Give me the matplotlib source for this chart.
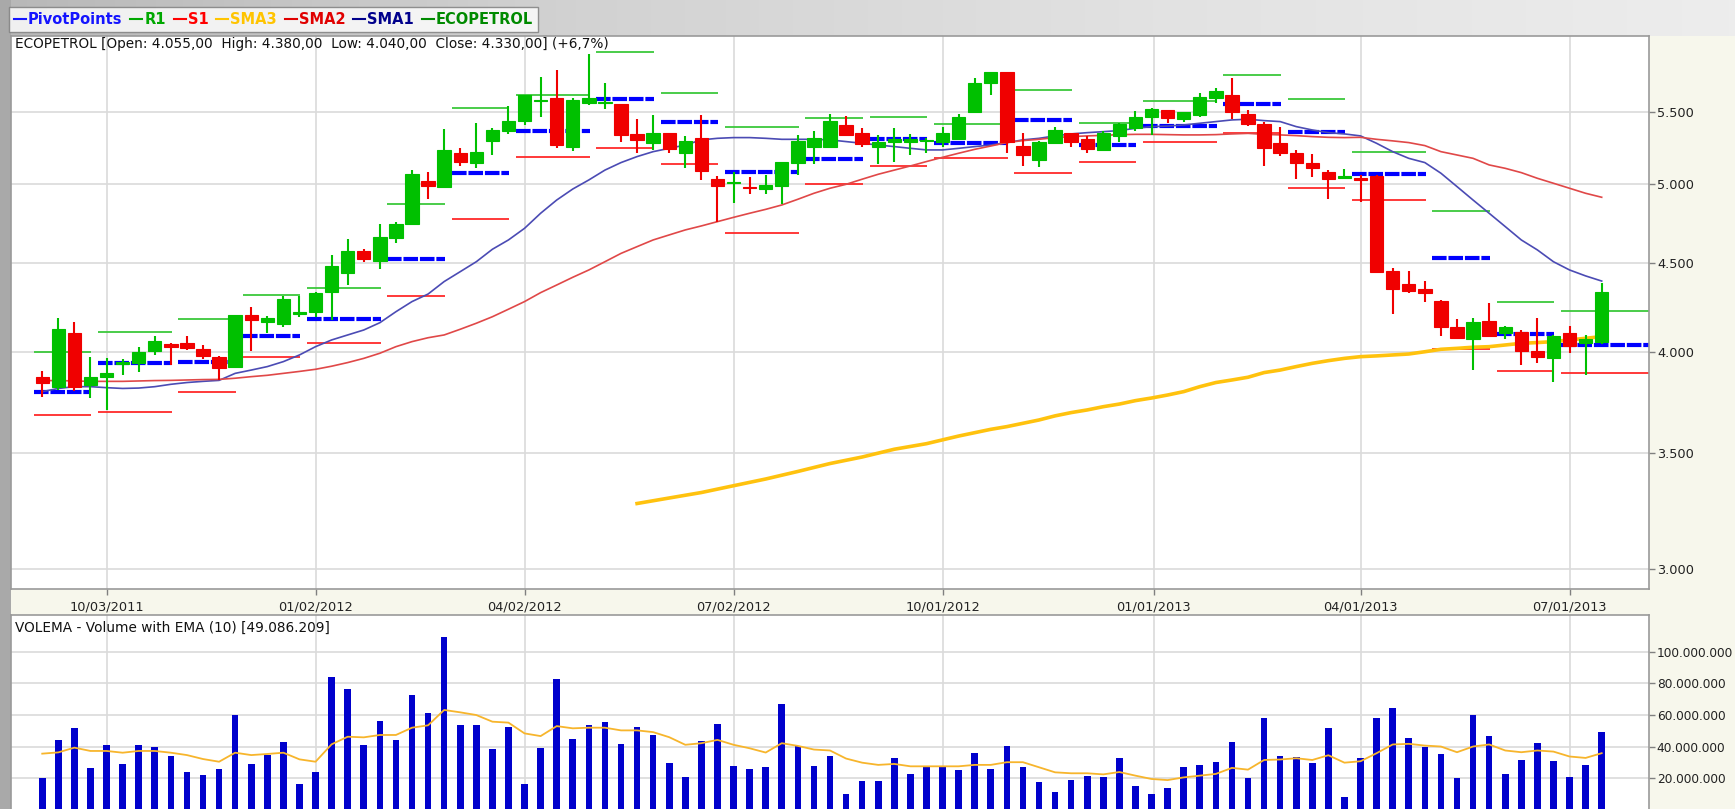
import datetime as dt
import numpy as np
import matplotlib
matplotlib.use("Agg")
import matplotlib.pyplot as plt
import matplotlib.dates as mdates
from matplotlib.patches import Rectangle
from matplotlib.lines import Line2D
from matplotlib.colors import LinearSegmentedColormap
from matplotlib.ticker import FixedLocator, FuncFormatter, NullLocator

plt.rcParams['font.family'] = ['DejaVu Sans']

# ---------------- data ----------------
FIRST_WEEK = "2011-09-05"

opens = [3868, 3817, 4103, 3829, 3871, 3935, 3944, 4005, 4043, 4046,
         4014, 3971, 3923, 4199, 4164, 4151, 4206, 4219, 4333, 4444,
         4575, 4515, 4650, 4737, 5020, 4980, 5209, 5141, 5291, 5364,
         5435, 5576, 5603, 5251, 5561, 5561, 5554, 5340, 5279, 5349,
         5205, 5309, 5029, 5002, 4980, 4962, 4987, 5136, 5251, 5251,
         5404, 5349, 5251, 5286, 5286, 5291, 5286, 5305, 5500, 5710,
         5800, 5255, 5159, 5279, 5344, 5302, 5228, 5326, 5380, 5459,
         5512, 5449, 5476, 5598, 5623, 5483, 5409, 5274, 5209, 5136,
         5080, 5040, 5035, 5053, 4453, 4375, 4346, 4281, 4136, 4071,
         4169, 4100, 4109, 4007, 3969, 4100, 4046, 4055]
highs = [3900, 4182, 4164, 3975, 3966, 3963, 4025, 4088, 4050, 4088,
         4037, 3980, 4199, 4244, 4195, 4308, 4308, 4333, 4549, 4646,
         4583, 4739, 4750, 5090, 5080, 5373, 5239, 5421, 5380, 5542,
         5623, 5756, 5812, 5603, 5937, 5710, 5554, 5447, 5476, 5349,
         5328, 5476, 5051, 5080, 5046, 5057, 5148, 5333, 5364, 5483,
         5469, 5380, 5333, 5380, 5340, 5309, 5387, 5483, 5749, 5794,
         5800, 5344, 5293, 5387, 5349, 5326, 5364, 5416, 5507, 5524,
         5512, 5500, 5635, 5673, 5749, 5512, 5428, 5387, 5228, 5200,
         5090, 5097, 5057, 5057, 4469, 4455, 4396, 4285, 4177, 4182,
         4269, 4140, 4118, 4182, 4092, 4140, 4092, 4380]
lows = [3770, 3803, 3800, 3761, 3704, 3880, 3897, 3984, 3932, 4010,
        3961, 3854, 3919, 4007, 4100, 4136, 4191, 4191, 4173, 4371,
        4508, 4463, 4619, 4737, 4897, 4969, 5118, 5102, 5193, 5337,
        5404, 5459, 5239, 5223, 5549, 5520, 5286, 5209, 5228, 5205,
        5102, 5024, 4754, 4871, 4932, 4932, 4867, 5057, 5132, 5251,
        5326, 5251, 5132, 5148, 5193, 5205, 5251, 5305, 5500, 5623,
        5205, 5118, 5109, 5274, 5251, 5205, 5223, 5286, 5364, 5333,
        5421, 5428, 5459, 5561, 5445, 5396, 5118, 5186, 5029, 5046,
        4897, 5029, 4880, 4444, 4206, 4323, 4275, 4083, 4067, 3906,
        4086, 4067, 3932, 3940, 3845, 3996, 3880, 4040]
closes = [3837, 4125, 3820, 3868, 3888, 3949, 4001, 4058, 4028, 4019,
          3979, 3914, 4199, 4173, 4182, 4289, 4219, 4327, 4483, 4575,
          4523, 4656, 4739, 5062, 4987, 5228, 5148, 5216, 5368, 5435,
          5623, 5586, 5260, 5586, 5603, 5571, 5333, 5298, 5349, 5232,
          5291, 5086, 4987, 5011, 4973, 4991, 5143, 5293, 5309, 5435,
          5333, 5270, 5286, 5305, 5305, 5298, 5349, 5464, 5716, 5794,
          5286, 5193, 5286, 5368, 5286, 5232, 5349, 5411, 5464, 5522,
          5452, 5495, 5606, 5653, 5500, 5411, 5239, 5205, 5141, 5102,
          5031, 5053, 5024, 4449, 4348, 4339, 4323, 4136, 4076, 4160,
          4086, 4136, 4005, 3975, 4088, 4034, 4067, 4330]

sma1 = [3795, 3811, 3820, 3820, 3815, 3811, 3813, 3820, 3832, 3841,
        3847, 3852, 3888, 3905, 3923, 3949, 3984, 4028, 4064, 4091,
        4118, 4158, 4219, 4276, 4319, 4391, 4449, 4508, 4583, 4640,
        4712, 4807, 4892, 4964, 5024, 5090, 5141, 5182, 5216, 5239,
        5262, 5298, 5309, 5314, 5314, 5309, 5302, 5302, 5302, 5298,
        5286, 5274, 5262, 5251, 5239, 5228, 5228, 5239, 5251, 5262,
        5279, 5298, 5309, 5326, 5340, 5349, 5356, 5364, 5380, 5392,
        5396, 5404, 5416, 5428, 5440, 5445, 5435, 5428, 5392, 5368,
        5349, 5340, 5326, 5274, 5216, 5170, 5141, 5069, 4980, 4892,
        4807, 4723, 4640, 4579, 4508, 4459, 4424, 4394]
sma2 = [3851, 3851, 3849, 3847, 3847, 3847, 3849, 3851, 3852, 3854,
        3856, 3857, 3863, 3871, 3878, 3888, 3898, 3909, 3925, 3944,
        3966, 3993, 4028, 4055, 4076, 4091, 4122, 4155, 4191, 4233,
        4276, 4327, 4371, 4416, 4459, 4508, 4558, 4599, 4640, 4671,
        4702, 4727, 4754, 4781, 4807, 4832, 4860, 4897, 4936, 4969,
        4995, 5029, 5062, 5090, 5118, 5148, 5177, 5205, 5232, 5255,
        5279, 5293, 5302, 5314, 5321, 5326, 5330, 5335, 5337, 5337,
        5335, 5333, 5333, 5335, 5340, 5344, 5337, 5333, 5328, 5321,
        5316, 5314, 5316, 5302, 5291, 5279, 5258, 5216, 5193, 5170,
        5125, 5102, 5073, 5035, 5002, 4969, 4936, 4910]
sma3 = [None] * 37 + [
        3272, 3284, 3296, 3308, 3320, 3335, 3350, 3365, 3380, 3397,
        3414, 3432, 3450, 3465, 3480, 3498, 3516, 3529, 3542, 3560,
        3578, 3594, 3610, 3623, 3639, 3655, 3675, 3691, 3704, 3720,
        3733, 3750, 3763, 3778, 3795, 3820, 3841, 3854, 3868, 3892,
        3905, 3923, 3940, 3954, 3966, 3975, 3979, 3984, 3989, 4001,
        4014, 4019, 4025, 4028, 4037, 4046, 4050, 4055, 4064, 4073,
        4082]

volume_m = [20.4, 44.2, 52.0, 26.3, 40.8, 29.0, 40.8, 40.0, 34.0, 23.8,
            22.0, 25.7, 59.8, 29.0, 35.0, 42.7, 16.2, 23.8, 84.2, 76.6,
            40.8, 56.0, 44.2, 72.4, 61.0, 109.5, 53.5, 53.5, 38.3, 52.6,
            16.2, 39.2, 82.5, 45.0, 53.5, 55.6, 41.4, 52.4, 47.3, 29.5,
            20.8, 43.9, 54.1, 27.8, 25.9, 27.0, 67.0, 40.5, 27.8, 34.4,
            10.1, 18.3, 18.3, 32.9, 22.5, 27.8, 27.8, 25.1, 36.1, 25.9,
            40.5, 27.0, 17.5, 11.5, 19.2, 21.7, 20.8, 32.9, 14.9, 10.1,
            13.9, 27.0, 28.5, 30.4, 43.1, 20.0, 58.3, 34.4, 33.8, 29.5,
            51.7, 7.9, 32.9, 58.3, 64.4, 45.6, 39.7, 35.4, 20.0, 60.2,
            46.5, 22.5, 31.9, 42.2, 31.0, 20.8, 28.5, 49.086209]
volume_ema_m = [35.6, 36.4, 39.4, 37.3, 37.3, 36.2, 37.3, 37.3, 36.2, 34.7,
                32.2, 30.5, 36.2, 34.7, 35.4, 36.2, 32.0, 30.5, 41.5, 46.3,
                45.9, 47.4, 47.4, 52.0, 53.5, 63.2, 61.7, 60.0, 55.8, 55.2,
                48.4, 46.7, 53.0, 51.6, 52.0, 52.0, 50.3, 50.3, 49.2, 46.0,
                41.2, 42.2, 44.3, 41.2, 39.0, 36.3, 42.2, 40.5, 38.2, 37.6,
                32.5, 29.9, 28.5, 29.1, 27.6, 27.6, 27.6, 27.6, 28.5, 28.5,
                30.2, 30.2, 27.0, 23.8, 23.2, 23.2, 22.5, 24.0, 21.7, 19.6,
                18.9, 20.6, 21.7, 22.8, 26.6, 25.5, 31.6, 31.9, 32.7, 31.6,
                34.6, 29.9, 30.8, 35.9, 41.4, 41.8, 40.7, 40.1, 36.5, 40.1,
                41.4, 37.6, 36.5, 37.6, 36.9, 33.8, 32.9, 35.9]

# monthly pivot points: number of weekly bars each month covers, P / R1 / S1
pivot_months = ["2011-09", "2011-10", "2011-11", "2011-12", "2012-01", "2012-02",
                "2012-03", "2012-04", "2012-05", "2012-06", "2012-07", "2012-08",
                "2012-09", "2012-10", "2012-11", "2012-12", "2013-01", "2013-02",
                "2013-03", "2013-04", "2013-05", "2013-06", "2013-07"]
pivot_weeks = [4, 5, 4, 4, 5, 4, 4, 5, 4, 4, 5, 4, 4, 5, 4, 4, 5, 4, 4, 5, 4, 4, 3]
pivot_p = [3792, 3940, 3945, 4088, 4177, 4525, 5069, 5361, 5591, 5428, 5080, 5164,
           5305, 5274, 5437, 5262, 5396, 5554, 5356, 5062, 4530, 4096, 4036]
pivot_r1 = [4001, 4109, 4177, 4312, 4352, 4867, 5524, 5623, 5950, 5635, 5387, 5457,
            5464, 5409, 5660, 5416, 5581, 5774, 5591, 5216, 4822, 4271, 4225]
pivot_s1 = [3679, 3692, 3795, 3971, 4045, 4310, 4773, 5182, 5244, 5134, 4681, 4997,
            5118, 5175, 5073, 5143, 5282, 5344, 4973, 4893, 4014, 3900, 3892]

quarter_labels = ["10/03/2011", "01/02/2012", "04/02/2012", "07/02/2012",
                  "10/01/2012", "01/01/2013", "04/01/2013", "07/01/2013"]
price_ticks = [3000, 3500, 4000, 4500, 5000, 5500]
volume_ticks_m = [20, 40, 60, 80, 100]

legend_labels = ["PivotPoints", "R1", "S1", "SMA3", "SMA2", "SMA1", "ECOPETROL"]
legend_colors = ["#1414FF", "#00A800", "#FF0000", "#FFC400", "#E00000", "#00008C", "#008A00"]

header_text = "ECOPETROL [Open: 4.055,00  High: 4.380,00  Low: 4.040,00  Close: 4.330,00] (+6,7%)"
volume_text = "VOLEMA - Volume with EMA (10) [49.086.209]"

# ---------------- figure ----------------
W, H = 1735, 809
fig = plt.figure(figsize=(W / 100, H / 100), dpi=100)
fig.patch.set_facecolor("#F7F7EC")


def fx(px):
    return px / W


def fy(py):
    return 1 - py / H


# window chrome backgrounds
top = fig.add_axes([0, fy(36), 1, 36 / H], zorder=-5)
grad = np.linspace(0, 1, 256)[None, :]
top.imshow(grad, aspect="auto", extent=[0, 1, 0, 1],
           cmap=LinearSegmentedColormap.from_list("g", ["#B8B8B8", "#D2D2D2", "#E2E2E2", "#EDEDED"]))
top.axis("off")
fig.add_artist(Rectangle((0, 0), fx(11), 1, transform=fig.transFigure,
                         facecolor="#A9A9A9", edgecolor="none", zorder=-4))

d0 = dt.datetime.strptime(FIRST_WEEK, "%Y-%m-%d")
dates = [d0 + dt.timedelta(days=7 * i) for i in range(len(closes))]
x = mdates.date2num(dates)
xlim = (x[0] - 13.6, x[0] + 699.6)
date_pos = mdates.date2num([dt.datetime.strptime(s, "%m/%d/%Y") for s in quarter_labels])

grid_c = "#DADADA"
spine_c = "#9A9A9A"

# ---------------- price panel ----------------
axp = fig.add_axes([fx(11), fy(589), fx(1649) - fx(11), (589 - 36) / H])
axp.set_facecolor("white")
axp.set_yscale("log")
axp.set_xlim(*xlim)
axp.set_ylim(2921.5, 6080)

start = 0
for k, n in enumerate(pivot_weeks):
    s, e = start, start + n - 1
    xa = x[s] - 3.7
    xb = x[e] + 0.3 if k < len(pivot_weeks) - 1 else xlim[1]
    axp.plot([xa, xb], [pivot_r1[k]] * 2, color="#3CC83C", lw=1.3, zorder=2, solid_capstyle="butt")
    axp.plot([xa, xb], [pivot_s1[k]] * 2, color="#FF2A2A", lw=1.3, zorder=2, solid_capstyle="butt")
    axp.plot([xa, xb], [pivot_p[k]] * 2, color="#0000FF", lw=3.0, zorder=2,
             dashes=(3.5, 0.45), dash_capstyle="butt")
    start += n

axp.plot(x, sma1, color="#4B4BB4", lw=1.2, zorder=3)
axp.plot(x, sma2, color="#E04848", lw=1.2, zorder=3)
axp.plot(x, np.array(sma3, dtype=float), color="#FFC20E", lw=2.6, zorder=3)

up_c, dn_c = "#00C000", "#F00000"
bw = 5.8
for xi, o, h, l, c in zip(x, opens, highs, lows, closes):
    col = up_c if c >= o else dn_c
    axp.vlines(xi, l, h, color=col, lw=1.5, zorder=4)
    lo, hi = min(o, c), max(o, c)
    axp.add_patch(Rectangle((xi - bw / 2, lo), bw, hi - lo, facecolor=col,
                            edgecolor=col, lw=0.8, zorder=5))

fmt_dots = FuncFormatter(lambda v, p: f"{v:,.0f}".replace(",", "."))
axp.yaxis.set_major_locator(FixedLocator(price_ticks))
axp.yaxis.set_minor_locator(NullLocator())
axp.yaxis.set_major_formatter(fmt_dots)
axp.yaxis.tick_right()
axp.tick_params(axis="y", which="major", length=4, width=1, color="#808080",
                labelsize=9.3, pad=2, labelcolor="#222222")
axp.set_xticks(date_pos)
axp.set_xticklabels(quarter_labels)
axp.tick_params(axis="x", length=4, width=1, color="#808080", labelsize=9.3, pad=4,
                labelcolor="#222222")
axp.grid(True, color=grid_c, lw=1.2)
axp.set_axisbelow(True)
for sp in axp.spines.values():
    sp.set_color(spine_c)
    sp.set_linewidth(1.2)

# ---------------- volume panel ----------------
axv = fig.add_axes([fx(11), -1 / H, fx(1649) - fx(11), (810 - 615) / H])
axv.set_facecolor("white")
axv.set_xlim(*xlim)
axv.set_ylim(0, 123.2e6)
vol = np.array(volume_m) * 1e6
ema = np.array(volume_ema_m) * 1e6
axv.bar(x, vol, width=2.9, color="#0000CC", zorder=3)
axv.plot(x, ema, color="#F7B52C", lw=1.3, zorder=4)
axv.yaxis.tick_right()
axv.yaxis.set_major_locator(FixedLocator([v * 1e6 for v in volume_ticks_m]))
axv.yaxis.set_major_formatter(fmt_dots)
axv.tick_params(axis="y", length=4, width=1, color="#808080", labelsize=8.7, pad=1.5,
                labelcolor="#222222")
axv.set_xticks(date_pos)
axv.tick_params(axis="x", length=0, labelbottom=False)
axv.grid(True, color=grid_c, lw=1.2)
axv.set_axisbelow(True)
for sp in axv.spines.values():
    sp.set_color(spine_c)
    sp.set_linewidth(1.2)

# ---------------- texts ----------------
fig.text(fx(15), fy(44), header_text, fontsize=9.8, va="center", ha="left", color="#111111")
fig.text(fx(15), fy(628), volume_text, fontsize=9.8, va="center", ha="left", color="#111111")

handles = [Line2D([], [], color=c, lw=1.5) for c in legend_colors]
leg = fig.legend(handles, legend_labels, loc="upper left", bbox_to_anchor=(fx(9), fy(7)),
                 ncol=7, frameon=True, fancybox=False, handlelength=0.8, handletextpad=0.15,
                 columnspacing=0.55, borderpad=0.35, borderaxespad=0,
                 prop={"weight": "bold", "size": 10.5}, labelcolor=legend_colors)
leg.get_frame().set_edgecolor("#7A7A7A")
leg.get_frame().set_facecolor("white")
leg.get_frame().set_linewidth(1.0)

fig.savefig("out.png", dpi=100, facecolor=fig.get_facecolor())
